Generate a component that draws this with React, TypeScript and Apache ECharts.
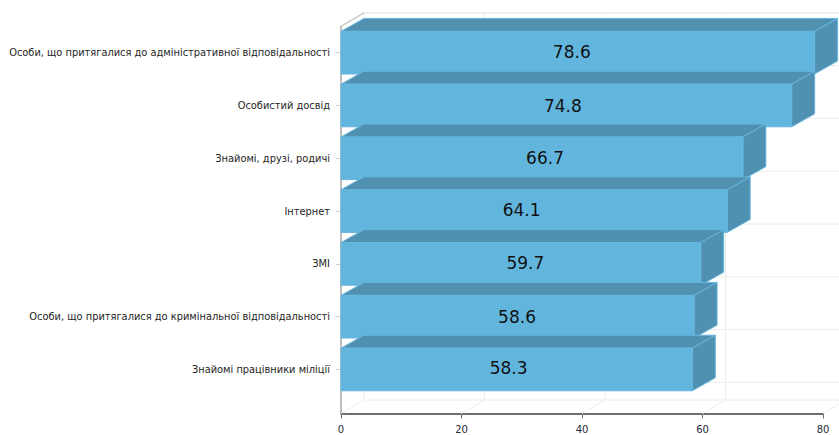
import React, { useEffect, useRef } from "react";
import * as echarts from "echarts";

const categories = [
  "Особи, що притягалися до адміністративної відповідальності",
  "Особистий досвід",
  "Знайомі, друзі, родичі",
  "Інтернет",
  "ЗМІ",
  "Особи, що притягалися до кримінальної відповідальності",
  "Знайомі працівники міліції",
];
const values = [78.6, 74.8, 66.7, 64.1, 59.7, 58.6, 58.3];
const labelNudgeX = [-6, -3.5, 3.1, -12.5, 4.5, -0.5, -8];
const labelNudgeY = [-1, 0, 0, -1, -1, 0, -2];
const axisTicks = [0, 20, 40, 60, 80];

const DX = 23;
const DY = 13.5;
const BAR_DY = 13;
const FLOOR = 17.6;
const BAR_H = 42.6;
const FRONT = "#62b6de";
const SHADE = "#5091b2";
const EDGE = "#66b7dd";
const WALL = "#ececec";

const line = (x1: number, y1: number, x2: number, y2: number, stroke: string, lineWidth = 1) => ({
  type: "line",
  shape: { x1, y1, x2, y2 },
  style: { stroke, lineWidth },
  silent: true,
});

export default function App() {
  const ref = useRef<HTMLDivElement>(null);
  useEffect(() => {
    const chart = echarts.init(ref.current!, undefined, { renderer: "svg" });
    chart.setOption({
      animation: false,
      backgroundColor: "#fff",
      grid: { left: 341, top: 26.3, width: 482, height: 369.6, containLabel: false, outerBoundsMode: "none" },
      xAxis: {
        type: "value",
        min: 0,
        max: 80,
        interval: 20,
        offset: FLOOR,
        axisLine: { show: true, lineStyle: { color: "#6f6f6f", width: 2 } },
        axisTick: { show: true, length: 5, lineStyle: { color: "#6f6f6f", width: 1 } },
        axisLabel: { margin: 11, fontSize: 10, fontFamily: "DejaVu Sans", color: "#1f2a3a" },
        splitLine: { show: false },
      },
      yAxis: {
        type: "category",
        inverse: true,
        data: categories,
        axisLine: { show: false },
        axisTick: { show: true, alignWithLabel: true, length: 5, lineStyle: { color: "#ccc" } },
        axisLabel: { margin: 11, fontSize: 9.85, fontFamily: "DejaVu Sans", color: "#1e1e1e" },
      },
      series: [
        {
          // back wall, floor and left wall: vertical lines, one per axis tick
          type: "custom",
          coordinateSystem: "cartesian2d",
          z: 1,
          silent: true,
          encode: { x: 0, y: 1 },
          data: axisTicks.map((t) => [t, 0]),
          renderItem: (_p: any, api: any) => {
            const [x, y0] = api.coord([api.value(0), 0]);
            const [, yN] = api.coord([api.value(0), categories.length - 1]);
            const half = api.size([0, 1])[1] / 2;
            const top = y0 - half;
            const bottom = yN + half + FLOOR;
            const children: any[] = [
              line(x + DX, top - DY, x + DX, bottom - DY, WALL),
              line(x, bottom, x + DX, bottom - DY, WALL),
            ];
            if (api.value(0) === 0) {
              children.push(
                line(x, top, x, bottom, "#bdbdbd", 2),
                line(x, top, x + DX, top - DY, "#c8c8c8", 1.5),
              );
            }
            return { type: "group", children };
          },
        },
        {
          // back wall horizontal lines at the category band edges
          type: "custom",
          coordinateSystem: "cartesian2d",
          z: 1,
          silent: true,
          encode: { x: 0, y: 1 },
          data: categories.map((_c, i) => [0, i]),
          renderItem: (_p: any, api: any) => {
            const i = api.value(1);
            const [x0, y] = api.coord([0, i]);
            const [x1] = api.coord([80, i]);
            const half = api.size([0, 1])[1] / 2;
            const children: any[] = [line(x0 + DX, y - half - DY, x1 + DX, y - half - DY, WALL, i === 0 ? 1.5 : 1)];
            if (i === categories.length - 1) {
              children.push(line(x0 + DX, y + half - DY, x1 + DX, y + half - DY, WALL));
              children.push(line(x0 + DX, y + half + FLOOR - DY, x1 + DX, y + half + FLOOR - DY, WALL));
            }
            return { type: "group", children };
          },
        },
        {
          type: "custom",
          coordinateSystem: "cartesian2d",
          z: 3,
          encode: { x: 0, y: 1 },
          data: values.map((v, i) => [v, i]),
          renderItem: (_p: any, api: any) => {
            const i = api.value(1);
            const [x1, yc] = api.coord([api.value(0), i]);
            const [x0] = api.coord([0, i]);
            const t = yc - BAR_H / 2;
            const b = yc + BAR_H / 2;
            const face = (points: number[][], fill: string) => ({
              type: "polygon",
              shape: { points },
              style: { fill, stroke: EDGE, lineWidth: 1 },
            });
            return {
              type: "group",
              children: [
                face([[x0, t], [x1, t], [x1 + DX, t - BAR_DY], [x0 + DX, t - BAR_DY]], SHADE),
                face([[x1, t], [x1 + DX, t - BAR_DY], [x1 + DX, b - BAR_DY], [x1, b]], SHADE),
                face([[x0, t], [x1, t], [x1, b], [x0, b]], FRONT),
                {
                  type: "text",
                  style: {
                    text: api.value(0).toFixed(1),
                    x: (x0 + x1) / 2 + labelNudgeX[i],
                    y: yc + labelNudgeY[i],
                    align: "center",
                    verticalAlign: "middle",
                    fontSize: 17,
                    fontFamily: "DejaVu Sans",
                    fill: "#111",
                  },
                },
              ],
            };
          },
        },
      ],
    });
    return () => chart.dispose();
  }, []);
  return (
    <div
      ref={ref}
      style={{ position: "fixed", left: 0, top: 0, width: 839, height: 435, background: "#fff" }}
    />
  );
}
